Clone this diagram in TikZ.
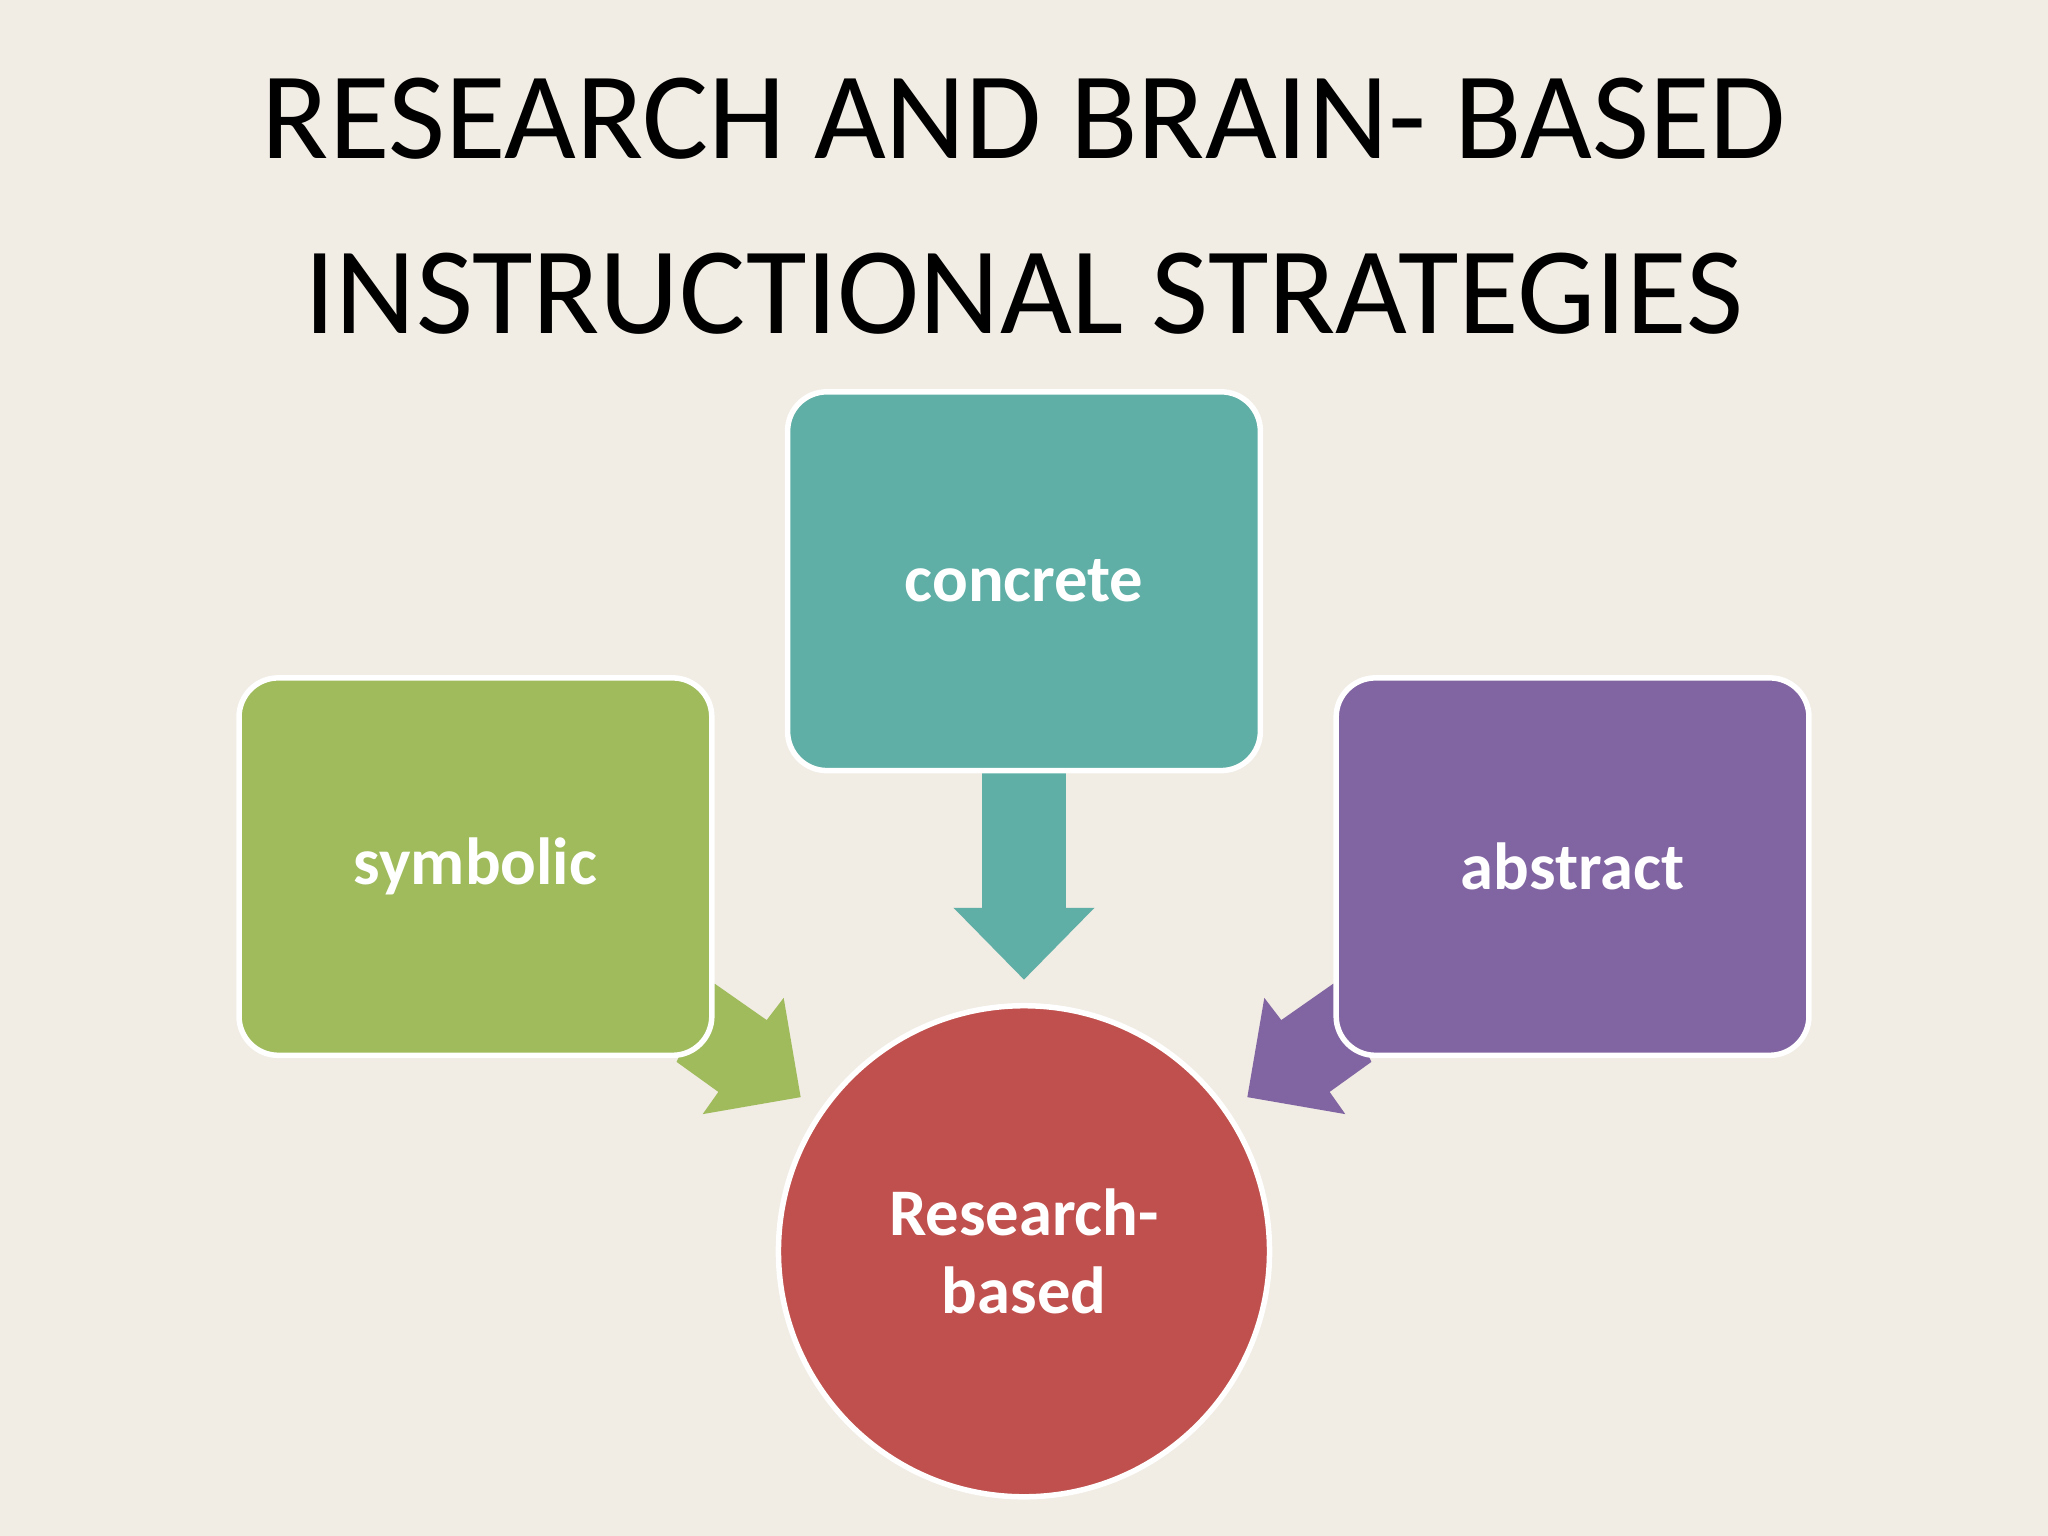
\documentclass[tikz,border=0pt]{standalone}
\usepackage{fontspec}
\setmainfont{Carlito}
\definecolor{bg}{HTML}{F1ECE4}
\definecolor{teal}{HTML}{5FAFA6}
\definecolor{grn}{HTML}{9FBB5C}
\definecolor{purp}{HTML}{8165A2}
\definecolor{red}{HTML}{C0504D}
\begin{document}
\begin{tikzpicture}[x=0.01cm,y=-0.01cm,
 box/.style={draw=white,line width=1.2pt,rounded corners=0.3cm,inner sep=0},
 lbl/.style={text=white,font=\fontsize{14.5}{17}\selectfont\bfseries,align=center}]
\fill[bg] (0,0) rectangle (1568,1176);
\useasboundingbox (0,0) rectangle (1568,1176);
\node[font=\fontsize{27}{38}\selectfont,align=center] (title) at (784,158) {RESEARCH AND BRAIN- BASED\\INSTRUCTIONAL STRATEGIES};
% arrows
\fill[teal] (752,592) -- (816,592) -- (816,695) -- (838,695) -- (784,750) -- (730,695) -- (752,695) -- cycle;
\fill[grn] (547,753) -- (587,781) -- (600,764) -- (613,840) -- (538,853) -- (550,836) -- (518,813) -- cycle;
\fill[purp] (1021,753) -- (981,781) -- (968,764) -- (955,840) -- (1030,853) -- (1018,836) -- (1050,813) -- cycle;
\draw[box,fill=teal] (603,300) rectangle (965,590);
\draw[box,fill=grn] (183,519) rectangle (545,808);
\draw[box,fill=purp] (1023,519) rectangle (1385,808);
\draw[white,line width=1.2pt,fill=red] (784,958) circle (188);
\node[lbl] (concrete) at (784,445) {concrete};
\node[lbl] (symbolic) at (364,663) {symbolic};
\node[lbl] (abstract) at (1204,663) {abstract};
\node[lbl] (research) at (784,958) {Research-\\based};
\end{tikzpicture}
\end{document}
